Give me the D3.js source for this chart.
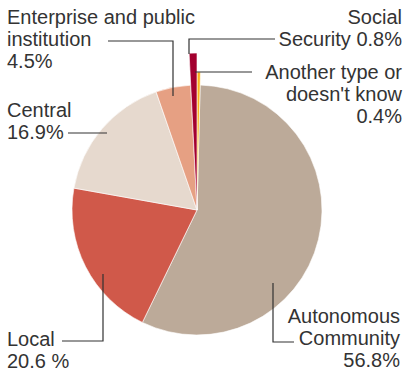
<!DOCTYPE html>
<html>
<head>
<meta charset="utf-8">
<script src="https://cdn.jsdelivr.net/npm/d3@7"></script>
<style>
  html, body { margin: 0; padding: 0; background: #fff; }
  svg { display: block; }
  text { font-family: "Liberation Sans", Arial, sans-serif; font-size: 20px; fill: #333; }
</style>
</head>
<body>
<svg id="chart" width="403" height="371"></svg>
<script>
// ---- data ----
const categories = ["Another type or doesn't know", "Autonomous Community", "Local", "Central", "Enterprise and public institution", "Social Security"];
const values = [0.4, 56.8, 20.6, 16.9, 4.5, 0.8];
const colors = ["#f9b11c", "#bcaa99", "#d0594a", "#e6d9ce", "#e6a083", "#a3002f"];
const labelLines = [
  ["Another type or", "doesn't know", "0.4%"],
  ["Autonomous", "Community", "56.8%"],
  ["Local", "20.6 %"],
  ["Central", "16.9%"],
  ["Enterprise and public", "institution", "4.5%"],
  ["Social", "Security 0.8%"]
];

// ---- layout ----
const W = 403, H = 371;
const cx = 197, cy = 210, R = 125;
const outerR = [138, R, R, R, R, 157];  // small slices pulled out
const lineH = 22;
const labelLayout = [
  { x: 402, y: 79, anchor: "end", leader: [[195, 72], [252, 72]] },
  { x: 400, y: 323, anchor: "end", leader: [[273, 283], [273, 342], [294, 342]] },
  { x: 7, y: 346, anchor: "start", leader: [[103, 274], [103, 341], [62, 341]] },
  { x: 7, y: 117, anchor: "start", leader: [[107, 133], [68, 133]] },
  { x: 7, y: 24, anchor: "start", leader: [[173, 96], [173, 41], [108, 41]] },
  { x: 402, y: 24, anchor: "end", leader: [[189, 54], [189, 39], [275, 39]] }
];

const svg = d3.select("#chart");
const data = categories.map((c, i) => ({ name: c, value: values[i], i }));

const pie = d3.pie().sort(null).value(d => d.value);
const arcs = pie(data);
const arc = d3.arc().innerRadius(0).outerRadius(d => outerR[d.data.i]);

const g = svg.append("g").attr("transform", `translate(${cx},${cy})`);
// draw big slices first, then small protruding ones on top
const order = [1, 2, 3, 4, 0, 5];
g.selectAll("path")
  .data(order.map(k => arcs[k]))
  .join("path")
  .attr("d", arc)
  .attr("fill", d => colors[d.data.i])
  .attr("stroke", "#fff")
  .attr("stroke-width", 0.6)
  .attr("stroke-linejoin", "round");

// leaders
const line = d3.line();
svg.selectAll("path.leader")
  .data(labelLayout)
  .join("path")
  .attr("class", "leader")
  .attr("d", d => line(d.leader))
  .attr("fill", "none")
  .attr("stroke", "#333")
  .attr("stroke-width", 1.2);

// labels
labelLayout.forEach((L, i) => {
  const t = svg.append("text").attr("text-anchor", L.anchor);
  labelLines[i].forEach((s, j) => {
    t.append("tspan").attr("x", L.x).attr("y", L.y + j * lineH).text(s);
  });
});
</script>
</body>
</html>
